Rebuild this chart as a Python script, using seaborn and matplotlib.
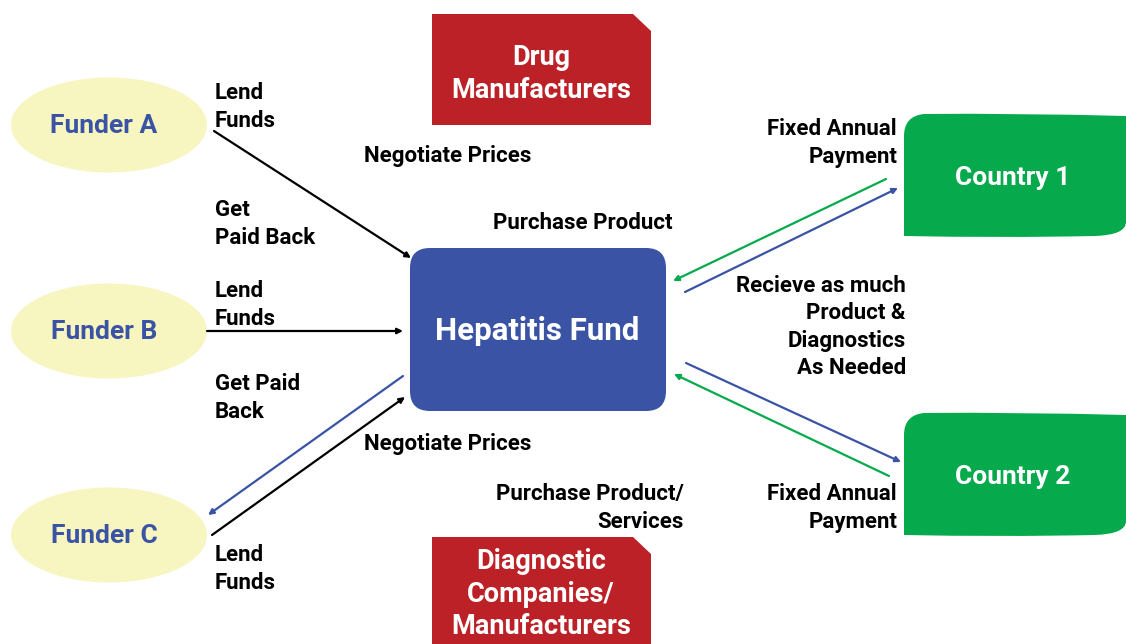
import matplotlib.pyplot as plt
import seaborn as sns
from matplotlib.patches import Ellipse, FancyBboxPatch, Polygon, PathPatch
from matplotlib.path import Path

sns.set_theme(style='white')
plt.rcParams['font.family'] = ['Roboto', 'DejaVu Sans']

BLUE = '#3A53A4'
RED = '#BB2126'
GREEN = '#06AA4D'
YELLOW = '#F7F5C0'

# nodes
funder_names = ['Funder A', 'Funder B', 'Funder C']
funder_y = [126, 332, 536]
country_names = ['Country 1', 'Country 2']
country_top = [114, 413]
supplier_names = ['Drug\nManufacturers', 'Diagnostic\nCompanies/\nManufacturers']
supplier_top = [14, 537]
supplier_mid = [74, 594]
hub_name = 'Hepatitis Fund'

# edges: (start, end, colour)
edge_start = [(214, 131), (207, 331), (403, 376), (212, 535),
              (886, 179), (685, 292), (686, 363), (889, 476)]
edge_end = [(411, 258), (403, 331), (208, 515), (405, 397),
            (673, 281), (898, 188), (901, 462), (674, 374)]
edge_color = ['black', 'black', BLUE, 'black', GREEN, BLUE, BLUE, GREEN]

# edge labels: text, x, y, alignment
label_text = ['Lend\nFunds', 'Get\nPaid Back', 'Lend\nFunds', 'Get Paid\nBack',
              'Lend\nFunds', 'Negotiate Prices', 'Purchase Product',
              'Negotiate Prices', 'Purchase Product/\nServices',
              'Fixed Annual\nPayment',
              'Recieve as much\nProduct &\nDiagnostics\nAs Needed',
              'Fixed Annual\nPayment']
label_x = [215, 215, 215, 215, 215, 364, 493, 364, 684, 897, 906, 897]
label_y = [107, 224, 305, 398, 569, 156, 223, 444, 508, 143, 327, 508]
label_ha = ['left'] * 8 + ['right'] * 4

fig = plt.figure(figsize=(11.26, 6.44), dpi=100)
ax = fig.add_axes([0, 0, 1, 1])
ax.set_xlim(0, 1126)
ax.set_ylim(644, 0)
ax.axis('off')

for name, y in zip(funder_names, funder_y):
    ax.add_patch(Ellipse((109, y - 1), 196, 95, color=YELLOW, lw=0))
    ax.text(104, y, name, color=BLUE, fontsize=19, fontweight='bold',
            ha='center', va='center')

ax.add_patch(FancyBboxPatch((410, 248), 256, 163,
                            boxstyle='round,pad=0,rounding_size=20',
                            color=BLUE, lw=0))
ax.text(537, 331, hub_name, color='white', fontsize=22.5, fontweight='bold',
        ha='center', va='center')

for name, top, mid in zip(supplier_names, supplier_top, supplier_mid):
    ax.add_patch(Polygon([(432, top), (633, top), (651, top + 17),
                          (651, top + 111), (432, top + 111)],
                         closed=True, color=RED, lw=0))
    ax.text(541, mid, name, color='white', fontsize=19.5, fontweight='bold',
            ha='center', va='center', linespacing=1.25)

for name, top in zip(country_names, country_top):
    verts = [(904, top + 22), (904, top + 2), (924, top),
             (1015, top - 1), (1126, top + 2),
             (1126, top + 108), (1126, top + 121), (1095, top + 122),
             (1000, top + 124), (904, top + 122), (904, top + 22)]
    codes = [Path.MOVETO, Path.CURVE3, Path.CURVE3,
             Path.CURVE3, Path.CURVE3,
             Path.LINETO, Path.CURVE3, Path.CURVE3,
             Path.CURVE3, Path.CURVE3, Path.CLOSEPOLY]
    ax.add_patch(PathPatch(Path(verts, codes), color=GREEN, lw=0))
    ax.text(1013, top + 64, name, color='white', fontsize=19,
            fontweight='bold', ha='center', va='center')

for s, e, c in zip(edge_start, edge_end, edge_color):
    ax.annotate('', xy=e, xytext=s,
                arrowprops=dict(arrowstyle='-|>', color=c, lw=1.6,
                                mutation_scale=8, shrinkA=0, shrinkB=0))

for t, x, y, ha in zip(label_text, label_x, label_y, label_ha):
    ax.text(x, y, t, fontsize=16, fontweight='bold', color='black',
            ha=ha, va='center', multialignment=ha, linespacing=1.3)

fig.savefig('out.png', dpi=100)
